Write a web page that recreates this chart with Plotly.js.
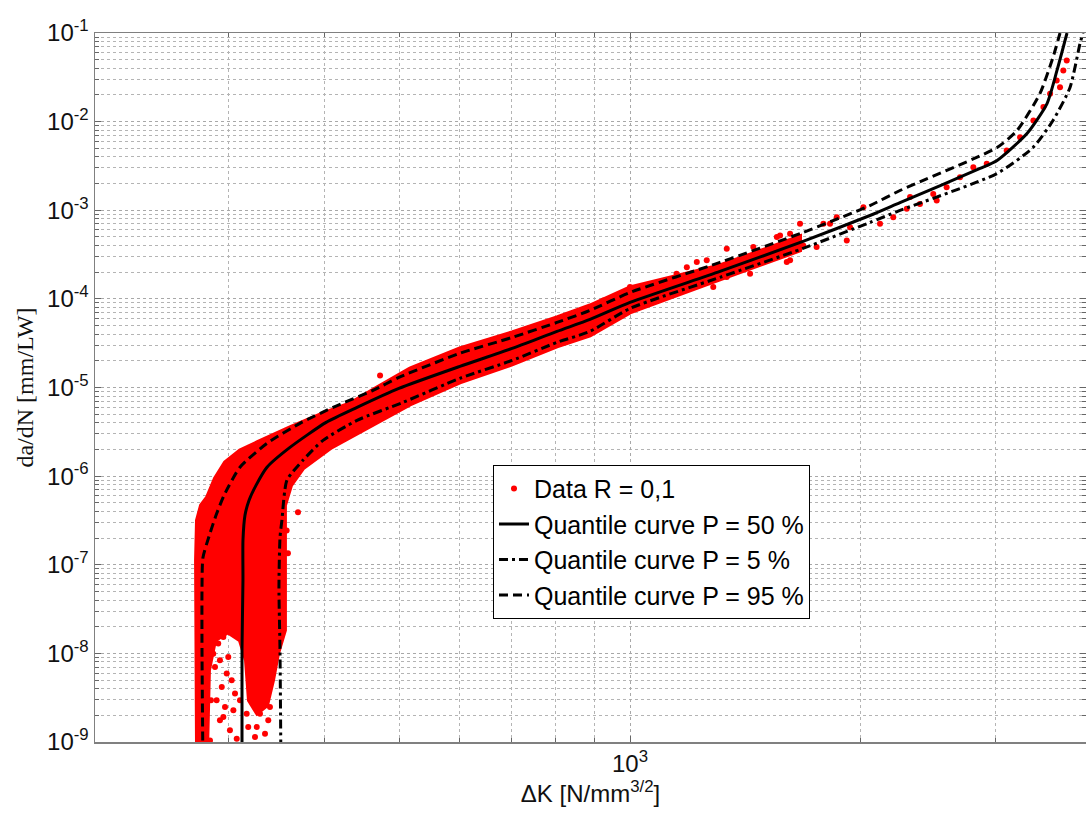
<!DOCTYPE html>
<html>
<head>
<meta charset="utf-8">
<script src="https://cdn.plot.ly/plotly-3.0.1.min.js"></script>
<style>html,body{margin:0;padding:0;background:#fff;}#chart{width:1086px;height:820px;}</style>
</head>
<body>
<div id="chart"></div>
<script>
// ---- Quantile curves (ΔK in N/mm^3/2, da/dN in mm/LW) ----
const p50_dK   = [312.0, 312.0, 312.9, 312.9, 314.8, 318.6, 325.4, 336.3, 360.3, 401.6, 440.7, 499.7, 600.1, 701.9, 803.1, 886.9, 1000, 1310, 1681, 2055, 2249, 2860, 3010, 3293, 3497, 3603, 3713];
const p50_dadN = [5e-10, 1.08e-8, 6.67e-8, 1.88e-7, 3.61e-7, 5.32e-7, 7.87e-7, 1.26e-6, 2.11e-6, 4.04e-6, 5.97e-6, 9.77e-6, 1.73e-5, 2.76e-5, 4.30e-5, 5.86e-5, 9.12e-5, 2.04e-4, 4.45e-4, 8.73e-4, 1.22e-3, 2.96e-3, 3.65e-3, 7.35e-3, 1.60e-2, 3.78e-2, 0.1];

const p5_dK   = [350.7, 349.7, 348.6, 349.7, 351.7, 357.0, 374.6, 397.9, 440.7, 505.8, 600.1, 701.9, 803.1, 886.9, 1000, 1310, 1681, 2055, 2249, 3010, 3353, 3560, 3747, 3861, 3896];
const p5_dadN = [5e-10, 1.08e-8, 5.56e-8, 2.04e-7, 3.17e-7, 8.95e-7, 1.51e-6, 2.53e-6, 4.26e-6, 6.79e-6, 1.27e-5, 2.02e-5, 3.23e-5, 4.30e-5, 7.80e-5, 1.75e-4, 3.71e-4, 7.28e-4, 9.95e-4, 2.60e-3, 5.11e-3, 1.03e-2, 2.43e-2, 7.62e-2, 0.1];

const p95_dK   = [277.5, 276.7, 276.7, 277.5, 283.4, 288.6, 295.6, 310.1, 336.3, 371.3, 410.1, 462.4, 499.7, 600.1, 701.9, 803.1, 886.9, 1000, 1310, 1681, 2055, 2249, 3010, 3196, 3424, 3560, 3636];
const p95_dadN = [5e-10, 1.08e-8, 5.56e-8, 1.21e-7, 2.26e-7, 3.61e-7, 6.07e-7, 1.26e-6, 2.34e-6, 3.94e-6, 5.97e-6, 9.27e-6, 1.30e-5, 2.43e-5, 3.67e-5, 5.42e-5, 7.41e-5, 1.18e-4, 2.58e-4, 5.62e-4, 1.13e-3, 1.67e-3, 5.11e-3, 7.94e-3, 2.08e-2, 5.30e-2, 0.1];

// ---- Dense part of the measured data cloud (outline of overlapping points) ----
const cloud_dK = [272.6, 271.8, 271.8, 272.6, 275.9, 280.9, 287.7, 296.5, 310.1, 326.4,
                  360.3, 397.9, 431.4, 467.9, 516.6, 600.1, 701.9, 803.1, 886.9, 1000,
                  1310, 1666, 1666, 1310,
                  1000, 886.9, 803.1, 701.9, 600.1, 516.6, 448.6, 406.4, 374.6, 361.4,
                  354.9, 354.9, 354.9, 347.6, 342.4, 336.3, 326.4, 318.6, 315.8, 310.1,
                  299.1, 287.7, 282.5, 280.9];
const cloud_dadN = [8e-10, 1.08e-8, 1.12e-7, 3.17e-7, 4.68e-7, 5.75e-7, 9.44e-7, 1.43e-6, 1.95e-6, 2.40e-6,
                    3.55e-6, 5.10e-6, 6.62e-6, 1.00e-5, 1.64e-5, 2.76e-5, 4.19e-5, 6.18e-5, 8.43e-5, 1.35e-4,
                    2.38e-4, 5.06e-4, 3.52e-4, 1.66e-4,
                    7.03e-5, 3.87e-5, 2.91e-5, 1.82e-5, 1.14e-5, 6.44e-6, 3.28e-6, 2.06e-6, 1.22e-6, 7.87e-7,
                    4.68e-7, 1.12e-7, 1.82e-8, 1.0e-8, 4.97e-9, 2.59e-9, 2.11e-9, 2.95e-9, 8.36e-9, 1.40e-8,
                    1.73e-8, 1.40e-8, 6.44e-9, 8e-10];

// ---- Individual data points (R = 0,1) ----
const data_dK = [
  286.2, 290.5, 295.0, 292.0, 287.7, 298.0, 293.6, 302.5, 289.1, 296.5,
  305.5, 292.0, 300.9, 307.1, 283.4, 295.0, 304.0, 299.4, 286.2, 317.9,
  326.1, 334.3, 329.3, 337.6, 316.4, 339.3, 324.4, 277.8, 279.2, 275.0,
  369.1, 356.7, 358.1, 472.2, 274.2, 310.1, 284.2,
  923.0, 970.4, 1000, 1072, 1105, 1150, 1186, 1222, 1284, 1337,
  1378, 1434, 1463, 1522, 1601, 1554, 1617, 1666, 1682, 1751,
  1823, 1917, 1936, 1259, 1337, 1391, 1448, 1507, 1569, 1617,
  1787, 1860, 2015, 2118, 2204, 2318, 2388, 2485, 2587, 2693,
  2803, 2918, 3098, 3225, 3357, 3459, 3529, 3600, 3672, 3710,
  3636, 2295, 2511, 886.9, 941.7
];
const data_dadN = [
  1.82e-8, 1.29e-8, 1.53e-8, 8.36e-9, 7.02e-9, 5.92e-9, 4.17e-9, 4.97e-9, 2.95e-9, 2.48e-9,
  3.52e-9, 1.76e-9, 1.36e-9, 1.09e-9, 1.04e-9, 1.91e-9, 2.28e-9, 9.10e-9, 9.93e-9, 1.48e-9,
  1.48e-9, 1.24e-9, 2.09e-9, 1.76e-9, 2.09e-9, 2.48e-9, 1.14e-9, 1.76e-9, 1.14e-9, 2.48e-9,
  3.90e-7, 2.44e-7, 1.35e-7, 1.37e-5, 3.96e-8, 2.95e-9, 2.95e-9,
  9.61e-5, 1.05e-4, 1.36e-4, 1.25e-4, 1.48e-4, 1.92e-4, 2.28e-4, 2.60e-4, 1.36e-4, 1.76e-4,
  2.09e-4, 1.92e-4, 2.72e-4, 3.23e-4, 2.60e-4, 4.98e-4, 5.43e-4, 7.05e-4, 4.01e-4, 3.84e-4,
  7.05e-4, 4.56e-4, 6.45e-4, 2.72e-4, 3.68e-4, 2.72e-4, 3.84e-4, 3.09e-4, 5.20e-4, 2.72e-4,
  7.05e-4, 8.36e-4, 1.08e-3, 7.05e-4, 8.36e-4, 1.41e-3, 1.18e-3, 1.53e-3, 1.82e-3, 2.36e-3,
  3.06e-3, 3.34e-3, 4.73e-3, 6.68e-3, 1.03e-2, 1.46e-2, 2.06e-2, 2.91e-2, 3.78e-2, 4.90e-2,
  2.45e-2, 1.04e-3, 1.29e-3, 7.41e-5, 8.43e-5
];

// ---- Axis ticks ----
const x_major_vals = [1000];
const x_major_text = ['10<sup>3</sup>'];
const x_minor_vals = [200, 300, 400, 500, 600, 700, 800, 900, 2000, 3000];
const y_decades  = [-9, -8, -7, -6, -5, -4, -3, -2, -1];
const y_mantissas = [2, 3, 4, 5, 6, 7, 8, 9];

const y_major_vals = y_decades.map(function (e) { return Math.pow(10, e); });
const y_major_text = y_decades.map(function (e) { return '10<sup>' + e + '</sup>'; });
const y_minor_vals = [];
y_decades.forEach(function (e) {
  if (e === -1) return;
  y_mantissas.forEach(function (m) { y_minor_vals.push(m * Math.pow(10, e)); });
});

const FONT = 'Liberation Sans, Arial, Helvetica, sans-serif';
const RED = '#ff0000';

const traces = [
  { x: cloud_dK, y: cloud_dadN, mode: 'lines', fill: 'toself', fillcolor: RED,
    line: { color: RED, width: 4 }, showlegend: false, hoverinfo: 'skip', legendgroup: 'data' },
  { x: data_dK, y: data_dadN, mode: 'markers', name: 'Data R = 0,1', legendgroup: 'data',
    marker: { color: RED, size: 6, line: { width: 0 } } },
  { x: p50_dK, y: p50_dadN, mode: 'lines', name: 'Quantile curve P = 50 %',
    line: { color: '#000000', width: 3, shape: 'spline', smoothing: 0.6 } },
  { x: p5_dK, y: p5_dadN, mode: 'lines', name: 'Quantile curve P = 5 %',
    line: { color: '#000000', width: 3, dash: '9px,4px,3px,4px', shape: 'spline', smoothing: 0.6 } },
  { x: p95_dK, y: p95_dadN, mode: 'lines', name: 'Quantile curve P = 95 %',
    line: { color: '#000000', width: 3, dash: '9px,5px', shape: 'spline', smoothing: 0.6 } }
];

function axisCommon(minorVals) {
  return {
    type: 'log',
    showgrid: true, gridcolor: '#a8a8a8', griddash: 'dot', gridwidth: 1,
    ticks: 'inside', ticklen: 6, tickcolor: '#666666', tickwidth: 1,
    showline: true, linecolor: '#808080', linewidth: 1.5, mirror: 'ticks',
    zeroline: false, tickmode: 'array',
    tickfont: { family: FONT, size: 24, color: '#111111' },
    minor: {
      tickmode: 'array', tickvals: minorVals,
      ticks: 'inside', ticklen: 4, tickcolor: '#666666', tickwidth: 1,
      showgrid: true, gridcolor: '#b4b4b4', griddash: 'dot', gridwidth: 1
    }
  };
}

const layout = {
  width: 1086, height: 820,
  margin: { l: 95, r: 0, t: 33, b: 78 },
  paper_bgcolor: '#ffffff', plot_bgcolor: '#ffffff',
  showlegend: true,
  xaxis: Object.assign(axisCommon(x_minor_vals), {
    range: [2.3025, 3.5945],
    tickvals: x_major_vals, ticktext: x_major_text,
    title: { text: 'ΔK [N/mm<sup>3/2</sup>]', font: { family: FONT, size: 24, color: '#111111' }, standoff: 8 }
  }),
  yaxis: Object.assign(axisCommon(y_minor_vals), {
    range: [-9, -1],
    tickvals: y_major_vals, ticktext: y_major_text,
    title: { text: 'da/dN [mm/LW]', font: { family: 'Liberation Serif, Times New Roman, serif', size: 24, color: '#111111' }, standoff: 6 }
  }),
  legend: {
    x: 0.4016, y: 0.391, xanchor: 'left', yanchor: 'top',
    bgcolor: '#ffffff', bordercolor: '#000000', borderwidth: 1,
    font: { family: FONT, size: 25, color: '#000000' },
    tracegroupgap: 0, itemwidth: 30
  }
};

Plotly.newPlot('chart', traces, layout, { staticPlot: true, displayModeBar: false });
</script>
</body>
</html>
